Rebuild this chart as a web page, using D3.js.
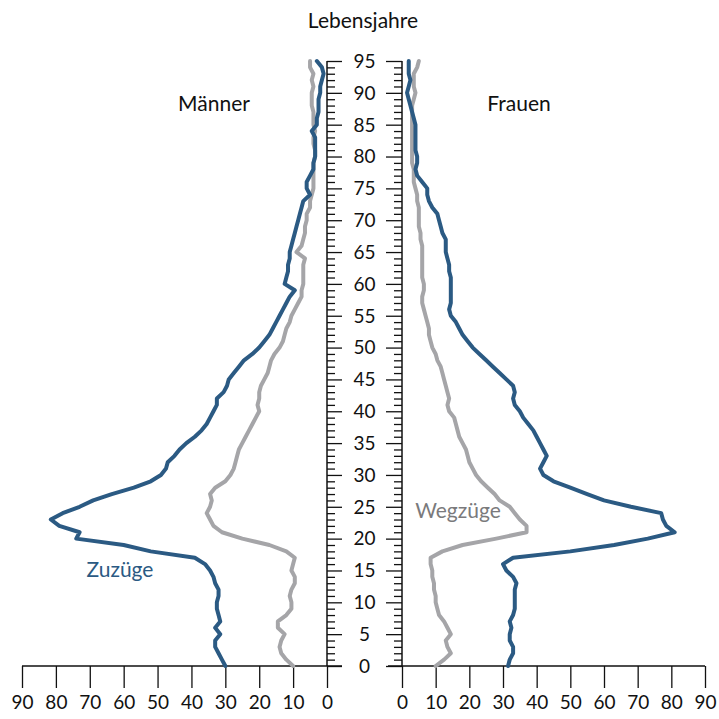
<!DOCTYPE html>
<html>
<head>
<meta charset="utf-8">
<script src="https://cdn.jsdelivr.net/npm/d3@7"></script>
<style>
  body { margin: 0; background: white; }
  text { font-family: Lato, "Open Sans", sans-serif; fill: #111; }
</style>
</head>
<body>
<div id="chart"></div>
<script>
// Ages 0..95 (one value per year of age)
const ages = d3.range(0, 96);

// Männer - Zuzüge (blue, left side)
const menIn = [30, 31, 32, 33, 33, 31.5, 33, 31.5, 32, 32.5,
  32.5, 32, 32, 33, 33.5, 34.5, 36, 39, 52, 60,
  74, 73, 79, 81.5, 78, 73, 69, 63.5, 57, 52,
  49, 47.5, 47, 45, 43.5, 41.5, 39, 37, 35.5, 34.5,
  33.5, 32.5, 32.5, 30.5, 29.5, 29, 27.5, 26, 24.5, 22,
  20, 18.5, 17, 16, 15, 14, 13, 12, 11, 9.5,
  12.5, 12, 11.5, 11.5, 11, 11, 10.5, 10, 9.5, 9,
  8.5, 8, 7.5, 7, 5, 6, 6, 5, 4, 4,
  3.5, 3.5, 3.5, 3.5, 4.5, 3, 3, 2.5, 2.5, 2.5,
  2, 2, 1.5, 1, 1.5, 3];

// Männer - Wegzüge (grey, left side)
const menOut = [10, 12, 13.5, 14, 13.5, 12.5, 14.5, 14.5, 12, 10.5,
  10.5, 11, 10.5, 9.5, 9.5, 10.5, 10, 9.5, 12, 17,
  25, 31, 33.5, 34.5, 35.5, 34.5, 34, 34.5, 33, 30,
  28.5, 27.5, 27, 26.5, 26, 25, 24, 23, 22, 21,
  20, 20.5, 20, 20, 19.5, 18.5, 17.5, 17, 16.5, 15.5,
  14, 13, 12.5, 12, 11, 10.5, 9.5, 8.5, 7.5, 7.5,
  7, 7, 7, 7, 6.5, 9, 7.5, 7, 6.5, 6.5,
  6, 6, 5, 5, 4.5, 4, 4, 4, 4, 4,
  3.5, 3.5, 4, 4, 3.5, 4, 4, 4, 4.5, 4.5,
  4.5, 4, 4.5, 4, 5, 5];

// Frauen - Zuzüge (blue, right side)
const womenIn = [31.5, 32, 33, 33, 32, 32, 32.5, 32, 33, 33.5,
  33.5, 33.5, 33.5, 34, 33, 31, 30, 33, 50, 63,
  73, 81, 78.5, 77.5, 77, 68, 60, 55, 50, 45,
  42, 41, 42, 43, 42, 41, 40, 39, 37.5, 36,
  35, 33.5, 33, 33.5, 33, 31, 29, 27, 25, 23,
  21, 19.5, 18, 17, 16, 14.5, 14, 14.5, 14.5, 14.5,
  14.5, 14.5, 14, 14, 13.5, 13, 13, 13, 12, 11.5,
  11, 10.5, 9, 8, 7.5, 7.5, 6, 4.5, 4, 4.5,
  4.5, 4, 4, 4, 4, 4, 3.5, 3, 2.5, 2,
  1.5, 2, 2.5, 2, 2, 2];

// Frauen - Wegzüge (grey, right side)
const womenOut = [10, 12.5, 14.5, 13.5, 13, 14.5, 13.5, 12.5, 11, 10.5,
  10, 10, 9.5, 9.5, 9, 9, 8.5, 8.5, 12, 18,
  28, 37, 37, 35, 33.5, 32, 29, 27.5, 25.5, 23.5,
  22, 21, 20, 19.5, 19, 18, 17, 16.5, 16, 15.5,
  14, 13.5, 14, 13.5, 13, 12.5, 12, 11.5, 10.5, 10,
  9, 8.5, 8, 8, 7.5, 7, 6.5, 6, 6, 6.5,
  6.5, 6, 6, 6, 6, 6, 6, 5.5, 5.5, 5,
  5, 5, 5, 4.5, 4.5, 4, 3.5, 3.5, 3.5, 3,
  3, 3, 3, 3, 3, 3, 3, 3, 3, 3.5,
  4, 3.5, 3.5, 3.5, 4.5, 5];

// tick labels
const xTicks = [0, 10, 20, 30, 40, 50, 60, 70, 80, 90];
const ageTicks = d3.range(0, 96, 5);

const width = 719, height = 719;
const blue = "#2b5a83";
const grey = "#a5a5a8";

const svg = d3.select("#chart")
  .append("svg")
  .attr("width", width)
  .attr("height", height);

// scales: left side runs from the middle outwards
const xLeft = d3.scaleLinear().domain([0, 90]).range([327, 22]);
const xRight = d3.scaleLinear().domain([0, 90]).range([402, 705]);
const y = d3.scaleLinear().domain([0, 95]).range([666, 61]);

// bottom axes
const leftAxis = svg.append("g")
  .attr("transform", "translate(0," + y(0) + ")")
  .call(d3.axisBottom(xLeft).tickValues(xTicks).tickSize(22).tickPadding(8));
const rightAxis = svg.append("g")
  .attr("transform", "translate(0," + y(0) + ")")
  .call(d3.axisBottom(xRight).tickValues(xTicks).tickSize(22).tickPadding(8));

[leftAxis, rightAxis].forEach(function(g) {
  g.select(".domain").remove();
  g.selectAll(".tick line").attr("stroke", "#111").attr("stroke-width", 1.3);
  g.selectAll(".tick text").style("font-size", "19px").attr("fill", "#111");
});
// the horizontal lines reach a bit past zero towards the middle
svg.append("line")
  .attr("x1", xLeft(90)).attr("x2", 342)
  .attr("y1", y(0)).attr("y2", y(0))
  .attr("stroke", "#111").attr("stroke-width", 1.3);
svg.append("line")
  .attr("x1", 388).attr("x2", xRight(90))
  .attr("y1", y(0)).attr("y2", y(0))
  .attr("stroke", "#111").attr("stroke-width", 1.3);

// centre age axes: minor ticks every year, major every 5
const ageLeft = svg.append("g")
  .attr("transform", "translate(" + xLeft(0) + ",0)")
  .call(d3.axisRight(y).tickValues(ages).tickSize(8).tickFormat(""));
ageLeft.selectAll(".tick line").filter(d => d % 5 === 0).attr("x2", 15);

const ageRight = svg.append("g")
  .attr("transform", "translate(" + xRight(0) + ",0)")
  .call(d3.axisLeft(y).tickValues(ages).tickSize(8).tickFormat(""));
ageRight.selectAll(".tick line").filter(d => d % 5 === 0).attr("x2", -16);

[ageLeft, ageRight].forEach(function(g) {
  g.select(".domain").attr("stroke", "#111").attr("stroke-width", 1.5)
    .attr("d", "M0," + y(0) + "V" + y(95));
  g.selectAll(".tick line").attr("stroke", "#111").attr("stroke-width", 1.3);
});

// age labels in the middle
svg.selectAll("ageLabels")
  .data(ageTicks)
  .enter()
  .append("text")
  .attr("x", (xLeft(0) + xRight(0)) / 2)
  .attr("y", d => y(d))
  .attr("dy", "0.36em")
  .attr("text-anchor", "middle")
  .style("font-size", "19px")
  .text(d => d);

// the four lines
const lineL = d3.line().x(d => xLeft(d[1])).y(d => y(d[0]));
const lineR = d3.line().x(d => xRight(d[1])).y(d => y(d[0]));

const series = [
  { vals: menOut, gen: lineL, color: grey },
  { vals: womenOut, gen: lineR, color: grey },
  { vals: menIn, gen: lineL, color: blue },
  { vals: womenIn, gen: lineR, color: blue }
];

svg.selectAll("allLines")
  .data(series)
  .enter()
  .append("path")
  .attr("d", s => s.gen(ages.map((a, i) => [a, s.vals[i]])))
  .attr("fill", "none")
  .attr("stroke", s => s.color)
  .attr("stroke-width", 4)
  .attr("stroke-linejoin", "round")
  .attr("stroke-linecap", "round");

// titles and labels
svg.append("text")
  .attr("x", 363).attr("y", 28)
  .attr("text-anchor", "middle")
  .style("font-size", "21px")
  .text("Lebensjahre");
svg.append("text")
  .attr("x", 214).attr("y", 111)
  .attr("text-anchor", "middle")
  .style("font-size", "21px")
  .text("Männer");
svg.append("text")
  .attr("x", 519).attr("y", 111)
  .attr("text-anchor", "middle")
  .style("font-size", "21px")
  .text("Frauen");
svg.append("text")
  .attr("x", 120).attr("y", 577)
  .attr("text-anchor", "middle")
  .style("font-size", "21px")
  .style("fill", blue)
  .text("Zuzüge");
svg.append("text")
  .attr("x", 458).attr("y", 518)
  .attr("text-anchor", "middle")
  .style("font-size", "21px")
  .style("fill", "#7a7a7c")
  .text("Wegzüge");
</script>
</body>
</html>
